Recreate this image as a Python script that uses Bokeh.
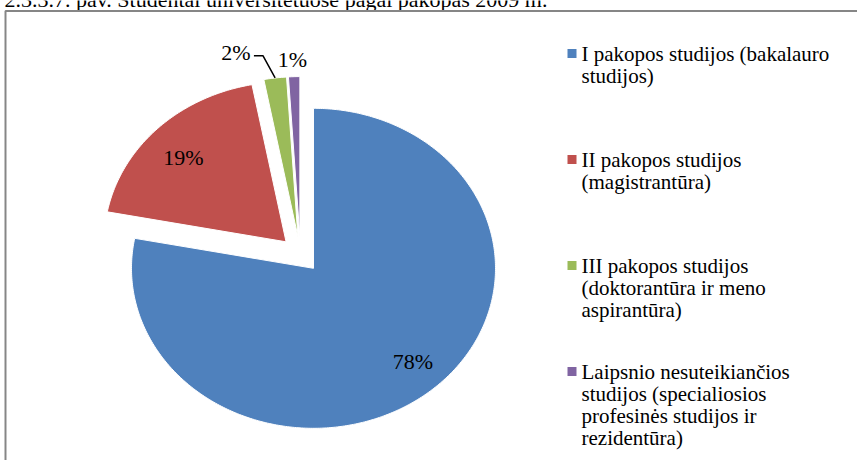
import numpy as np
from bokeh.plotting import figure
from bokeh.models import Range1d
from bokeh.core.properties import value
from bokeh.embed import file_html
from bokeh.resources import INLINE

# ---------------- data ----------------
title_text = "2.3.3.7. pav. Studentai universitetuose pagal pakopas 2009 m."
categories = [
    "I pakopos studijos (bakalauro studijos)",
    "II pakopos studijos (magistrantūra)",
    "III pakopos studijos (doktorantūra ir meno aspirantūra)",
    "Laipsnio nesuteikiančios studijos (specialiosios profesinės studijos ir rezidentūra)",
]
shares = [78, 19, 2, 1]
pct_labels = ["78%", "19%", "2%", "1%"]
legend_lines = [
    ["I pakopos studijos (bakalauro", "studijos)"],
    ["II pakopos studijos", "(magistrantūra)"],
    ["III pakopos studijos", "(doktorantūra ir meno", "aspirantūra)"],
    ["Laipsnio nesuteikiančios", "studijos (specialiosios", "profesinės studijos ir", "rezidentūra)"],
]
colors = ["#4F81BD", "#C0504D", "#9BBB59", "#8064A2"]

# ---------------- layout (picture pixel coordinates) ----------------
W, H = 857, 460
CX, CY = 300.0, 254.0
RX, RY = 182.0, 160.0
EXPLODE = 0.112
label_angle = [137.0, 312.9, 343.5, 357.9]
label_r = [0.80, 0.77, 1.20, 1.107]
leader = [False, False, True, False]
FONT = "Liberation Serif"

p = figure(width=W, height=H, output_backend="svg", toolbar_location=None,
           x_range=Range1d(0, W), y_range=Range1d(H, 0),
           min_border=0)
p.axis.visible = False
p.grid.visible = False
p.outline_line_color = None
p.background_fill_color = "white"
p.border_fill_color = "white"

# title (cut off at top as in the reference)
p.text(x=[4], y=[-1], text=[title_text], text_font=value(FONT),
       text_font_size="22px", text_color="black", text_baseline="middle",
       text_align="left")

# chart border
p.line(x=[5, 5, 900], y=[500, 10.5, 10.5], line_color="#868686", line_width=2)

total = float(sum(shares))
cum = np.cumsum([0] + shares) / total * 2 * np.pi
xs, ys, vx, vy = [], [], [], []
for i in range(len(shares)):
    a0, a1 = cum[i], cum[i + 1]
    am = 0.5 * (a0 + a1)
    ox = CX + EXPLODE * RX * np.sin(am)
    oy = CY - EXPLODE * RY * np.cos(am)
    t = np.linspace(a0, a1, max(4, int((a1 - a0) * 80)))
    xs.append(np.concatenate([[ox], ox + RX * np.sin(t), [ox]]).tolist())
    ys.append(np.concatenate([[oy], oy - RY * np.cos(t), [oy]]).tolist())
    vx.append(ox)
    vy.append(oy)

p.patches(xs=xs, ys=ys, fill_color=colors, line_color="white", line_width=1)

# data labels
lx, ly = [], []
for i in range(len(shares)):
    la = np.deg2rad(label_angle[i])
    lx.append(vx[i] + label_r[i] * RX * np.sin(la))
    ly.append(vy[i] - label_r[i] * RY * np.cos(la))
    if leader[i]:
        am = 0.5 * (cum[i] + cum[i + 1])
        ex = vx[i] + RX * np.sin(am)
        ey = vy[i] - RY * np.cos(am)
        p.line(x=[lx[-1] + 18, lx[-1] + 27, ex], y=[ly[-1] + 3, ly[-1] + 3, ey],
               line_color="black", line_width=1.5)
p.text(x=lx, y=ly, text=pct_labels, text_font=value(FONT), text_font_size="22px",
       text_color="black", text_align="center", text_baseline="middle")

# legend
LEG_MX, LEG_TX = 571.5, 581
LEG_Y0, LEG_STEP, LINE_GAP = 53, 106, 22.3
mx, my, tx, ty, tt = [], [], [], [], []
for i, lines in enumerate(legend_lines):
    base = LEG_Y0 + i * LEG_STEP
    mx.append(LEG_MX)
    my.append(base)
    for j, s in enumerate(lines):
        tx.append(LEG_TX)
        ty.append(base + j * LINE_GAP)
        tt.append(s)
p.rect(x=mx, y=my, width=9, height=9, fill_color=colors, line_color=None)
p.text(x=tx, y=ty, text=tt, text_font=value(FONT), text_font_size="21px",
       text_color="black", text_align="left", text_baseline="middle")

open("out.html", "w").write(file_html(p, INLINE))
